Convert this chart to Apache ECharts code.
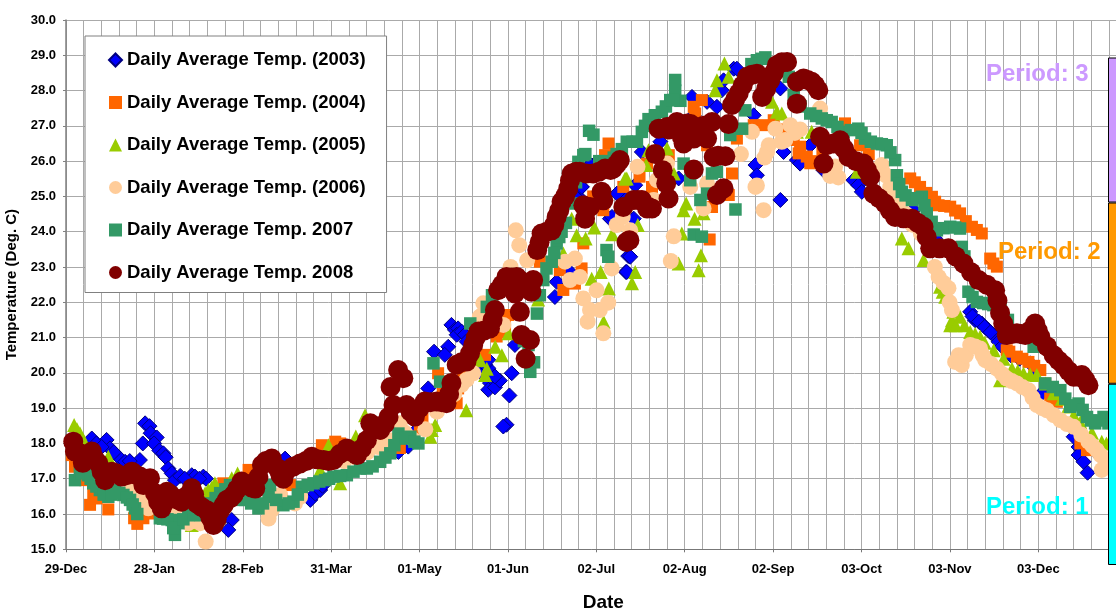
<!DOCTYPE html>
<html>
<head>
<meta charset="utf-8">
<style>html,body{margin:0;padding:0;background:#fff}#chart{width:1116px;height:613px}</style>
<script src="https://cdn.jsdelivr.net/npm/echarts@6/dist/echarts.min.js"></script>
</head>
<body>
<div id="chart"></div>
<script>
// x = days since 29-Dec, y = deg C
var xTickLabels = ['29-Dec','28-Jan','28-Feb','31-Mar','01-May','01-Jun','02-Jul','02-Aug','02-Sep','03-Oct','03-Nov','03-Dec'];

var temp2003 = [[8.9,18.14],[14,18.1],[15.2,17.86],[18.1,17.62],[20.4,17.48],[25.5,17.53],[26.5,18],[27.3,18.57],[28.8,18.49],[29.2,18.29],[31.3,18.17],[30.4,18],[32.2,17.8],[33.6,17.72],[34.4,17.61],[35.3,17.29],[36.5,17.15],[37.6,16.96],[39.4,17.08],[43.4,17.1],[44.5,17.06],[47.4,17.06],[48.3,17],[57.2,15.83],[56,15.55],[84.3,16.4],[86,16.58],[87.7,16.68],[75.6,17.57],[114.7,17.76],[118.1,17.91],[125,19.56],[127,20.6],[131.9,20.74],[130.7,20.51],[133,21.36],[134.2,21.22],[135.3,21.26],[134.8,21.08],[136.5,21.17],[137.6,21.08],[138.2,20.89],[154.9,20.79],[145.7,20.13],[142.8,20.04],[144.6,20.23],[145.7,20.37],[146.3,19.71],[145.7,19.52],[148,19.59],[149.7,19.78],[148,19.9],[153.8,19.99],[153,19.36],[152,18.53],[150.9,18.48],[168.7,22.15],[169.3,22.58],[173.9,22.86],[177.9,25.27],[176.8,25],[182.5,25.93],[180.2,25.84],[187.7,24.37],[193.2,22.86],[194,23.31],[191.7,25.08],[183.2,25.93],[180.9,25.9],[178,25.27],[176.3,24.94],[190.1,25.08],[188.4,24.42],[195.9,24.37],[194.7,23.29],[193.5,22.86],[196.4,25.32],[211.4,25.51],[205.1,26.55],[198.7,26.26],[216,27.82],[221.2,27.68],[224.6,27.54],[216.6,27.3],[230.4,28.62],[231.5,28.62],[226.3,28.01],[226.9,28.29],[237.3,27.3],[246.5,28.06],[247.6,26.26],[237.9,25.89],[238.4,25.6],[246.5,24.9],[252.2,26.03],[256.8,26.45],[253.3,25.93],[261.4,25.74],[271.7,25.46],[273.4,25.32],[274.6,25.13],[292.4,24.61],[299.9,23.81],[312,21.73],[313.7,21.49],[316,21.4],[318.3,21.21],[320,21.07],[321.8,20.88],[332.7,20.27],[336.7,19.42],[347.7,18.19],[349.4,17.9],[349.4,17.67],[351.1,17.48],[352.5,17.17],[356.9,17.62],[312.8,21.6],[315,21.45],[317,21.3],[319,21.15],[323,20.75],[326,20.5],[329,20.4],[335,20.05],[120,18.3],[10.5,18],[12.3,17.9],[16.5,17.75],[22,17.5],[41,17],[46,17],[88.5,16.8],[90,17.8]];

var temp2004 = [[2,17.67],[3.1,17.34],[6.6,16.96],[9.4,16.54],[8.3,16.26],[10.6,16.44],[14.6,16.13],[23.5,15.88],[24.6,15.72],[26.7,15.88],[26.7,16.07],[28.4,16.02],[30.2,16.02],[50.9,16.54],[54.3,16.87],[63,17.25],[77.3,16.82],[88.3,17.95],[92.9,18.05],[94.6,18],[114.2,17.9],[115.2,17.87],[122.1,18.48],[134.8,19.14],[128.4,19.99],[135.3,19.56],[144.6,20.51],[150.9,21.22],[151.5,21.31],[152.6,21.64],[148.6,21.03],[151.4,21.16],[163.5,23.15],[170.4,22.91],[171.6,22.35],[177.9,22.96],[175.6,22.53],[178.5,23.67],[186,26.17],[192.3,25.27],[181.9,25],[185.4,24.61],[187.2,26.5],[197.9,25.56],[202.2,25.27],[200.5,25.93],[208,26.17],[229.8,25.65],[228.7,25.04],[222.9,24.7],[222.1,23.78],[219.4,27.73],[217.1,27.35],[216.6,27.54],[221.2,26.45],[231.5,26.64],[237.3,27.02],[240.7,27.02],[244.2,27.16],[251.1,26.6],[252.8,26.22],[253.3,26.41],[255.6,26.13],[256.8,25.94],[268.8,27.07],[274,26.45],[291.3,25.51],[294.7,25.27],[298.8,24.99],[301.1,24.75],[305.1,24.71],[308.5,24.52],[312.6,24.14],[316,23.95],[318.9,23.24],[321.2,23.01],[324.6,20.64],[328.1,20.46],[332.1,20.31],[336.2,20.08],[339.6,19.27],[341.9,19.18],[352.3,17.81],[292.9,25.4],[296.8,25.1],[299.9,24.85],[303,24.73],[306.8,24.6],[310.5,24.3],[314.3,24.05],[320,23.1],[325.5,20.6],[330,20.4],[334.1,20.2],[337.9,19.7],[340.8,19.22],[350,18],[354,17.9],[277,26.2],[261,26.3],[258.8,26],[248,26.9],[100,17.9],[105,18.2],[110,18],[120,18.2],[123,18.7],[126,19.1],[130,19.4],[137,20],[140,20.3]];

var temp2005 = [[2.8,18.52],[4.8,18.29],[14.6,17.62],[43.4,15.69],[49.1,16.68],[51.4,16.87],[48,16.59],[57.2,17.01],[59.2,17.15],[94.6,16.87],[90.6,17.95],[103.2,18.8],[87.7,17.25],[111.9,18],[127.4,18.52],[126.2,18.38],[125.7,18.19],[138.1,18.94],[145.2,20.12],[144.6,19.94],[148.1,20.74],[150.4,20.5],[152.7,21.12],[142.9,20.36],[185.5,21.45],[162.9,22.08],[174.5,24.37],[176.2,23.9],[179.3,23.81],[182.3,24.12],[188.5,23.93],[184.5,22.86],[181.4,22.67],[187.3,22.39],[171.6,23.38],[192.9,25.51],[197.3,24.19],[213.1,24.61],[214,24.8],[216.9,24.37],[220,24.52],[212.5,23.95],[219.1,23.33],[211.4,23.1],[218.3,22.91],[196.4,22.86],[195.3,22.54],[193.5,25.51],[200.2,25.89],[201,26.31],[207.4,26.36],[209.7,25.65],[227.2,28.77],[224.6,28.29],[224,28.01],[228.6,28.39],[245.3,27.4],[243.6,27.68],[252.2,26.83],[247,27.35],[257.3,26.83],[272.9,25.7],[288.4,23.81],[290.7,23.53],[295.9,23.2],[301.6,22.44],[303.4,22.16],[306.2,21.73],[305.1,21.35],[305.7,21.49],[308.5,21.59],[312,21.16],[315.4,21.02],[320.1,20.64],[326.4,20.12],[330.4,19.98],[335,19.94],[340.8,19.42],[343.6,19.27],[347.7,18.8],[357.4,18.05],[322.3,19.79],[302.5,22.3],[307,21.35],[310,21.35],[313.7,21.1],[317,20.85],[323.5,20.4],[328.4,20.05],[332.7,19.95],[338,19.7],[345.8,19.05],[350,18.6],[354,18.3],[359,18],[3.8,18.4],[6,18.1],[50.3,16.75],[100,18.2]];

var temp2006 = [[48.2,15.22],[46.3,15.74],[42.2,15.74],[26.1,16.49],[28.4,16.16],[22.7,16.76],[33,16.21],[69.9,15.87],[71,16.11],[73.9,16.54],[79,16.3],[80.8,16.49],[107.8,17.9],[111.9,18.09],[113.6,18.57],[115.2,18.57],[138.2,19.8],[140.5,19.99],[136.5,19.66],[144,21.97],[142.8,21.59],[150.9,21.36],[155.2,24.04],[156.4,23.62],[159.1,23.19],[153.4,23],[143.4,21.62],[172.2,23.15],[175.6,23.24],[173.9,22.63],[177.3,22.72],[183.1,22.34],[178.5,22.11],[180.8,21.78],[187.1,21.99],[184.2,21.78],[180,21.45],[185.4,21.12],[188.3,22.96],[190,24.19],[192.1,24.42],[194.7,24.04],[202.8,24.9],[203.9,25.46],[207.4,25.93],[197.2,25.84],[209.7,23.87],[208.7,23.17],[220,24.66],[221.2,25.37],[215.4,25.27],[240.7,24.61],[238.4,25.31],[237.9,25.27],[232.9,26.2],[241.9,26.26],[236.7,26.83],[242.5,26.45],[244.8,26.92],[247,26.55],[249.9,27.02],[253.3,26.9],[260.2,27.49],[263.7,25.58],[266.5,25.54],[281.5,25.89],[284.4,25.27],[287.8,24.8],[301.1,22.72],[304.5,22.4],[305.7,21.78],[306.8,20.31],[309.1,20.22],[308,20.5],[312,20.79],[315.4,20.69],[317.2,20.36],[321.2,20.12],[324.6,19.84],[328.1,19.7],[332.1,19.51],[335,19.09],[338.5,18.94],[343.1,18.66],[347.7,18.47],[352.8,18.05],[355.7,17.81],[358.6,17.53],[357.4,17.25],[310.5,20.5],[313.7,20.75],[316.3,20.5],[319.2,20.25],[323,19.97],[326.3,19.77],[330,19.6],[333.5,19.3],[336.8,19],[340.8,18.8],[345.4,18.55],[350.3,18.25],[354.2,17.93],[357,17.67],[282.9,25.6],[286.2,25],[289.8,24.5],[292,24.2],[295,23.95],[298,23.5],[299.8,23],[302.8,22.55],[304.9,22],[117,18.3],[120,18.1],[124,18.4],[128,18.9],[131,19.1],[134,19.4],[35,16.3],[38,16.2],[40,16.3],[44,15.8],[96,17.5],[100,17.6],[104,17.75],[251.5,26.8],[248.2,26.6],[241,26.1],[265.4,25.85]];

var temp2007 = [[3.1,16.96],[4.8,17.2],[7.7,17.1],[9.4,16.87],[11.7,16.68],[14.6,16.49],[16.9,16.68],[19.8,16.54],[22.1,16.4],[23.8,16.16],[32.4,15.88],[36.5,15.83],[37.6,15.41],[38.8,15.74],[42.2,15.97],[46.3,15.97],[53.2,16.59],[56.6,16.82],[60.6,16.4],[61.8,16.4],[66.4,16.16],[69.9,16.49],[70.4,16.82],[75,16.25],[78.5,16.35],[81.4,16.77],[85.4,16.87],[89.4,16.96],[92.3,17.06],[96.9,17.1],[101.5,17.29],[103.8,17.29],[108.4,17.48],[111.9,17.72],[114.7,18.28],[115.9,18.14],[118.8,18.19],[121.6,18],[126.8,20.27],[129.1,19.75],[139.5,21.4],[145.2,21.87],[160.2,20.03],[159.6,20.79],[162.5,21.68],[164.7,22.63],[165.8,22.96],[167.6,23.15],[169.3,23.67],[171,24],[186.5,23.48],[187.1,23.29],[178.5,26.17],[176.8,25.98],[179.2,26.2],[180.5,26.86],[182,26.75],[191.8,26.34],[193.5,26.55],[197,26.55],[198.7,26.83],[201,27.19],[205.6,27.4],[208.5,27.73],[212,27.71],[210.2,28],[210.2,28.3],[213.1,25.93],[215.4,25.46],[222.9,25.65],[224.6,25.7],[218.9,24.9],[221.2,25.08],[231,24.63],[216.6,23.92],[219.4,23.86],[229.2,26.74],[233.3,26.92],[238.4,28.86],[241.3,28.94],[249.4,28.39],[234.4,27.44],[251.1,27.87],[256.8,27.35],[260.8,27.21],[264.2,27.11],[268.3,26.83],[273.4,26.92],[275.7,26.64],[279.8,26.5],[283.2,26.45],[286.1,26.03],[286.7,25.6],[288.4,25.13],[291.9,24.9],[295.3,24.99],[297,24.52],[300.5,24.04],[305.1,24.14],[308.5,24.09],[309.1,23.57],[311.4,22.3],[314.3,22.01],[320,21.92],[333.9,20.74],[337.9,19.7],[343.1,19.51],[346.5,19.04],[349.4,19.13],[352.3,18.75],[355.1,18.57],[358,18.75],[359.7,18.57],[5.5,17.15],[8.5,17],[10.5,16.78],[13,16.55],[15.7,16.55],[18.4,16.6],[21,16.47],[23,16.27],[24.6,16],[33.5,15.87],[35,15.85],[37,15.6],[40.5,15.85],[44.2,15.97],[48.3,16.1],[50,16.3],[51.6,16.45],[55,16.7],[58.5,16.65],[63.9,16.3],[68,16.3],[72.5,16.4],[76.8,16.3],[80,16.55],[83.4,16.82],[87.4,16.92],[90.8,17],[94.6,17.08],[99.2,17.2],[105.8,17.35],[110.2,17.6],[113.3,17.95],[117.3,18.15],[120.2,18.05],[158,20.9],[161.5,20.3],[147,22.2],[150,22.5],[154,22.8],[163.5,22.2],[168.5,23.4],[170.2,23.85],[172.5,24.25],[174.5,24.8],[176,25.4],[184,26],[186,26],[189,26.1],[190,26.2],[195.5,26.55],[199.8,27],[203.2,27.3],[207,27.55],[209.5,27.73],[240,28.9],[236.5,28.75],[245.3,28.75],[247,28.6],[253.5,27.55],[258.8,27.28],[262.5,27.16],[266.2,26.97],[270.8,26.88],[274.5,26.8],[277.7,26.55],[281.5,26.48],[284.5,26.25],[287.5,25.35],[289.7,25.03],[293.6,24.95],[296.2,24.75],[298.7,24.28],[302.8,24.1],[306.8,24.12],[310,23.3],[312.8,22.15],[316.5,21.98],[318.2,21.95],[322.5,21.8],[325,21.5],[328,21.2],[331,21],[340.5,19.6],[344.8,19.27],[347.9,19.08],[350.8,18.95],[353.7,18.65],[356.5,18.65]];

var temp2008 = [[2.5,18.05],[3.1,17.77],[4.8,17.72],[6.6,17.58],[8.9,17.77],[11.2,17.44],[12.3,17.2],[13.5,16.96],[15.8,17.2],[19.2,17.06],[22.7,17.2],[25.5,17.06],[26.7,16.82],[29,17.01],[30.7,16.59],[33,16.16],[34.8,16.63],[37.6,16.44],[39.9,16.35],[43.4,16.73],[45.1,16.3],[48.6,16.11],[50.9,15.69],[53.2,16.11],[55.5,16.4],[57.8,16.54],[60.6,16.92],[65.3,16.72],[67.6,17.39],[71,17.57],[75,17],[76.2,17.24],[80.8,17.43],[84.8,17.62],[88.9,17.53],[92.3,17.53],[96.9,17.86],[100.4,17.67],[103.8,18.09],[105,18.57],[108.4,18.38],[111.3,18.75],[113,19.09],[112,19.6],[114.6,20.08],[116.4,19.85],[117.5,19.09],[120.4,18.76],[123.8,19.19],[127.9,19.19],[131.3,19.14],[133,19.71],[134.8,20.23],[138.2,20.32],[140.5,20.79],[142.3,21.17],[146.3,21.26],[148,21.78],[149.1,22.34],[152,22.72],[155.5,22.72],[154.9,22.25],[158.9,22.53],[161.2,22.63],[160.6,22.3],[156.6,21.73],[157.2,21.07],[160.1,20.93],[158.6,20.4],[162.6,23.48],[164.1,23.95],[167.6,24.04],[169.3,24.42],[171,24.85],[173.3,25.22],[174.5,25.65],[177.3,25.7],[181.9,25.65],[186,25.79],[191.1,26.03],[188.8,25.79],[184.8,25.13],[185.4,24.89],[178.5,24.75],[180.8,24.7],[179.1,24.37],[192.3,24.7],[195.9,24.9],[198.7,24.9],[200.5,24.66],[202.2,24.66],[193.4,23.71],[194.4,23.76],[207.9,24.94],[207.1,25.37],[205.9,25.74],[203.3,26.2],[216.6,25.76],[224.6,25.04],[226.9,25.23],[204.5,26.92],[207.4,26.97],[210.8,27.11],[214.3,27.07],[212.5,26.69],[216.6,26.64],[218.9,26.97],[222.9,27.11],[221.2,26.64],[223.5,26.12],[227.5,26.14],[228.6,27.05],[213.1,26.5],[229.8,27.59],[232.1,27.92],[235,28.39],[238.4,28.48],[240.2,27.82],[243,28.29],[245.3,28.72],[248.8,28.81],[252.2,28.25],[252.2,27.63],[254.5,28.34],[257.3,28.25],[259.6,28.01],[260.2,26.69],[261.4,25.93],[262.5,26.45],[267.1,26.59],[270,26.12],[275.2,25.93],[277.5,25.56],[278.6,25.08],[282.6,24.8],[286.1,24.42],[291.9,24.37],[295.9,24.14],[298.2,23.53],[304.5,23.53],[309.7,23.1],[314.9,22.63],[320.6,22.34],[322.3,21.7],[324.6,21.07],[328.1,21.12],[331,21.07],[334.4,21.4],[336.2,21.02],[340.8,20.5],[344.2,20.22],[347.7,19.89],[350.5,19.94],[352.8,19.65],[5.8,17.45],[7.8,17.6],[10,17.55],[14.5,17.1],[17.5,17.15],[21,17.1],[24,17.12],[28,16.9],[31.8,16.35],[33.8,16.3],[36,16.55],[38.8,16.4],[41.5,16.5],[44.2,16.55],[46.8,16.2],[49.8,15.9],[52,15.85],[54.4,16.25],[56.7,16.45],[59,16.7],[62.5,16.85],[64,16.75],[66.4,17.05],[69,17.5],[73,17.3],[74,17.1],[78.5,17.35],[82.8,17.5],[86.8,17.55],[90.6,17.5],[94.5,17.7],[98.7,17.75],[102,17.85],[106.7,18.45],[110,18.55],[118.9,18.9],[122,19],[125.8,19.17],[129.6,19.17],[132.2,19.4],[136.5,20.3],[139.4,20.55],[141.4,21],[144.3,21.2],[147.2,21.5],[150.5,22.5],[153.8,22.7],[157,22.6],[159.9,22.55],[163.4,23.7],[165.9,24],[168.5,24.2],[170.2,24.6],[172.2,25],[173.9,25.45],[176,25.7],[179.5,25.65],[183.9,25.7],[187.9,25.75],[189.9,25.9],[197.3,24.9],[201,24.7],[208,26.9],[215.5,27.05],[220,27],[225,26.15],[230.9,27.75],[233.5,28.15],[236.7,28.45],[241.6,28.05],[244.2,28.5],[247,28.8],[255.9,28.3],[258.5,28.15],[264.8,26.5],[268.5,26.35],[272.6,26],[276.4,25.75],[280.6,24.95],[284.3,24.6],[289,24.38],[293.9,24.25],[297,23.85],[301.4,23.53],[307,23.3],[312.3,22.85],[317.7,22.5],[321.4,22.05],[323.4,21.4],[326.4,21.1],[329.5,21.1],[332.7,21.2],[335.3,21.2],[338.5,20.75],[342.5,20.35],[346,20.05],[349,19.9],[351.7,19.8]];

var periodNames = ['Period: 1','Period: 2','Period: 3'];
var periodValues = [1,1,0.8];
var periodColors = ['#00FFFF','#FF9900','#CC99FF'];

var font = '"Liberation Sans", Arial, sans-serif';

function scatter(name, data, symbol, size, color, border) {
	return {
		name: name,
		type: 'scatter',
		data: data,
		symbol: symbol,
		symbolSize: size,
		clip: false,
		itemStyle: { color: color, opacity: 1, borderColor: border || color, borderWidth: border ? 1 : 0 }
	};
}

function periodBar(i) {
	return {
		type: 'bar',
		stack: 'period',
		xAxisIndex: 1,
		yAxisIndex: 1,
		barWidth: '100%',
		z: 5,
		data: [periodValues[i]],
		itemStyle: { color: periodColors[i], borderColor: '#000', borderWidth: 1 }
	};
}

function periodText(i, x, y) {
	return {
		type: 'text', x: x, y: y, z: 10,
		style: { text: periodNames[i], fill: periodColors[i], font: 'bold 24px ' + font, textVerticalAlign: 'middle' }
	};
}

var chart = echarts.init(document.getElementById('chart'));
chart.setOption({
	animation: false,
	backgroundColor: '#fff',
	grid: [
		{ left: 66, width: 1060.7, top: 20, height: 529.3, outerBoundsMode: 'none' },
		{ left: 1108, width: 30, top: 57.5, height: 507.5, outerBoundsMode: 'none' }
	],
	legend: {
		left: 85,
		top: 36,
		orient: 'vertical',
		itemWidth: 13,
		itemHeight: 13,
		itemGap: 23.5,
		padding: [14.5, 21, 10.5, 23],
		backgroundColor: '#fff',
		borderColor: '#808080',
		borderWidth: 1,
		textStyle: { fontFamily: font, fontWeight: 'bold', fontSize: 18.5, color: '#000' },
		data: ['Daily Average Temp. (2003)','Daily Average Temp. (2004)','Daily Average Temp. (2005)','Daily Average Temp. (2006)','Daily Average Temp. 2007','Daily Average Temp. 2008']
	},
	xAxis: [
		{
			type: 'value',
			min: 0,
			max: 366,
			interval: 30.5,
			name: 'Date',
			nameLocation: 'middle',
			nameGap: 44,
			nameTextStyle: { fontFamily: font, fontWeight: 'bold', fontSize: 19, color: '#000', padding: [0, 0, 0, 14] },
			axisLine: { lineStyle: { color: '#777', width: 1 } },
			axisTick: { length: 3, lineStyle: { color: '#777' } },
			minorTick: { show: false, splitNumber: 5 },
			axisLabel: {
				margin: 14,
				showMaxLabel: true,
				fontFamily: font, fontWeight: 'bold', fontSize: 13, color: '#000',
				formatter: function (v) { return xTickLabels[Math.round(v / 30.5)] || ''; }
			},
			splitLine: { show: true, lineStyle: { color: '#aaa', width: 1 } },
			minorSplitLine: { show: true, lineStyle: { color: '#aaa', width: 1 } }
		},
		{ type: 'category', gridIndex: 1, data: ['p'], show: false }
	],
	yAxis: [
		{
			type: 'value',
			min: 15,
			max: 30,
			interval: 1,
			name: 'Temperature (Deg. C)',
			nameLocation: 'middle',
			nameGap: 42,
			nameTextStyle: { fontFamily: font, fontWeight: 'bold', fontSize: 15, color: '#000' },
			axisLine: { show: true, lineStyle: { color: '#808080', width: 1.5 } },
			axisTick: { show: true, length: 3, lineStyle: { color: '#808080' } },
			axisLabel: {
				margin: 10,
				fontFamily: font, fontWeight: 'bold', fontSize: 13, color: '#000',
				formatter: function (v) { return v.toFixed(1); }
			},
			splitLine: { show: true, lineStyle: { color: '#aaa', width: 1 } }
		},
		{ type: 'value', gridIndex: 1, min: 0, max: 2.8, show: false }
	],
	series: [
		scatter('Daily Average Temp. (2003)', temp2003, 'diamond', 15, '#0000FF', '#000080'),
		scatter('Daily Average Temp. (2004)', temp2004, 'rect', 12, '#FF6600'),
		scatter('Daily Average Temp. (2005)', temp2005, 'triangle', 14, '#99CC00'),
		scatter('Daily Average Temp. (2006)', temp2006, 'circle', 16, '#FFCC99'),
		scatter('Daily Average Temp. 2007', temp2007, 'rect', 12.5, '#339966'),
		scatter('Daily Average Temp. 2008', temp2008, 'circle', 20, '#800000'),
		periodBar(0), periodBar(1), periodBar(2)
	],
	graphic: [
		periodText(2, 986, 74),
		periodText(1, 998, 252),
		periodText(0, 986, 507)
	]
});
</script>
</body>
</html>
